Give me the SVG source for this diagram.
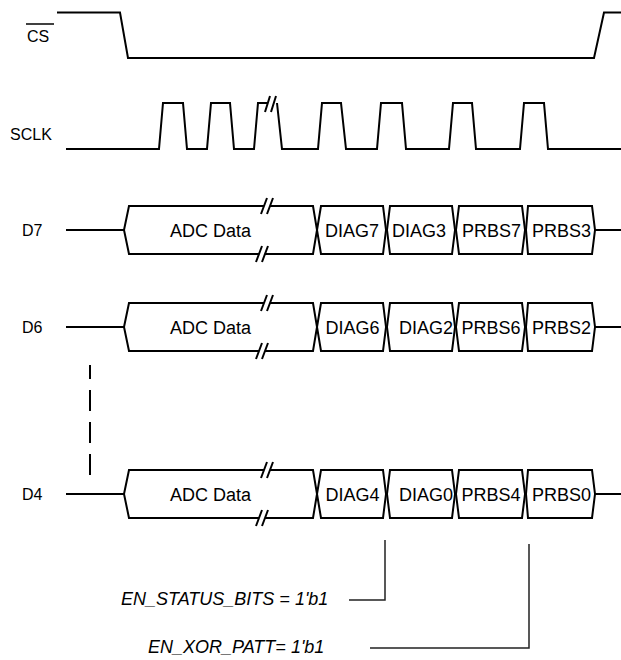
<svg xmlns="http://www.w3.org/2000/svg" width="621" height="660" viewBox="0 0 621 660">
<style>
.w{fill:none;stroke:#000;stroke-width:2;stroke-linejoin:miter}
.seg{fill:#fff;stroke:#000;stroke-width:2}
.lbl{font-family:"Liberation Sans",Arial,sans-serif;font-size:16px;fill:#000}
.t{font-family:"Liberation Sans",Arial,sans-serif;font-size:18px;fill:#000;text-anchor:middle}
.it{font-family:"Liberation Sans",Arial,sans-serif;font-size:18px;font-style:italic;fill:#000}
.c{fill:none;stroke:#222;stroke-width:1.5}
.gap{fill:#fff;stroke:none}
</style>
<rect width="621" height="660" fill="#fff"/>
<g id="cs">
<text class="lbl" x="27" y="41.5">CS</text>
<line x1="26" y1="24" x2="54" y2="24" stroke="#000" stroke-width="1.5"/>
<path class="w" d="M57,12.5 H120 L128,58 H594 L604,12.5 H621"/>
</g>
<g id="sclk">
<text class="lbl" x="10" y="140">SCLK</text>
<path class="w" d="M66,149 H159 L163,103 H183 L187,149 H207 L211,103 H230 L234,149 H254 L258,103 H267"/>
<path class="w" d="M265,112 L270,96 M271,112 L276,96"/>
<path class="w" d="M277,103 L282,149 H318 L322,103 H341 L346,149 H377 L381,103 H402 L406,149 H449 L453,103 H472 L476,149 H520 L524,103 H544 L548,149 H621"/>
</g>
<g id="d7">
<text class="lbl" x="22" y="236">D7</text>
<line class="w" x1="66" y1="230" x2="124" y2="230"/>
<polygon class="seg" points="124,230 129,206 313,206 317,230 313,254 129,254"/>
<rect class="gap" x="264" y="204" width="6" height="4"/>
<rect class="gap" x="259" y="252" width="6" height="4"/>
<path class="w" d="M261,214 L267,198 M267,214 L273,198 M256,262 L262,246 M262,262 L268,246"/>
<text class="t" x="210.5" y="236.5">ADC Data</text>
<polygon class="seg" points="317,230 321,206 383,206 386,230 383,254 321,254"/>
<text class="t" x="352" y="236.5">DIAG7</text>
<polygon class="seg" points="387,230 390,206 452,206 455,230 452,254 390,254"/>
<text class="t" x="419" y="236.5">DIAG3</text>
<polygon class="seg" points="456,230 459,206 522,206 525,230 522,254 459,254"/>
<text class="t" x="491.5" y="236.5">PRBS7</text>
<polygon class="seg" points="526,230 528,206 592,206 595,230 592,254 528,254"/>
<text class="t" x="561.5" y="236.5">PRBS3</text>
<line class="w" x1="595" y1="230" x2="621" y2="230"/>
</g>
<g id="d6">
<text class="lbl" x="22" y="333">D6</text>
<line class="w" x1="66" y1="327" x2="124" y2="327"/>
<polygon class="seg" points="124,327 129,303 313,303 317,327 313,351 129,351"/>
<rect class="gap" x="264" y="301" width="6" height="4"/>
<rect class="gap" x="259" y="349" width="6" height="4"/>
<path class="w" d="M261,311 L267,295 M267,311 L273,295 M256,359 L262,343 M262,359 L268,343"/>
<text class="t" x="210.5" y="333.5">ADC Data</text>
<polygon class="seg" points="317,327 321,303 383,303 386,327 383,351 321,351"/>
<text class="t" x="352.5" y="333.5">DIAG6</text>
<polygon class="seg" points="387,327 390,303 452,303 455,327 452,351 390,351"/>
<text class="t" x="426" y="333.5">DIAG2</text>
<polygon class="seg" points="456,327 459,303 522,303 525,327 522,351 459,351"/>
<text class="t" x="491" y="333.5">PRBS6</text>
<polygon class="seg" points="526,327 528,303 592,303 595,327 592,351 528,351"/>
<text class="t" x="561.5" y="333.5">PRBS2</text>
<line class="w" x1="595" y1="327" x2="621" y2="327"/>
</g>
<g id="ellipsis">
<path class="w" d="M90,365 V379 M90,390 V411 M90,422 V443 M90,454 V475"/>
</g>
<g id="d4">
<text class="lbl" x="22" y="500">D4</text>
<line class="w" x1="66" y1="494" x2="124" y2="494"/>
<polygon class="seg" points="124,494 129,470 313,470 317,494 313,518 129,518"/>
<rect class="gap" x="264" y="468" width="6" height="4"/>
<rect class="gap" x="259" y="516" width="6" height="4"/>
<path class="w" d="M261,478 L267,462 M267,478 L273,462 M256,526 L262,510 M262,526 L268,510"/>
<text class="t" x="210.5" y="500.5">ADC Data</text>
<polygon class="seg" points="317,494 321,470 383,470 386,494 383,518 321,518"/>
<text class="t" x="352.5" y="500.5">DIAG4</text>
<polygon class="seg" points="387,494 390,470 452,470 455,494 452,518 390,518"/>
<text class="t" x="426" y="500.5">DIAG0</text>
<polygon class="seg" points="456,494 459,470 522,470 525,494 522,518 459,518"/>
<text class="t" x="491" y="500.5">PRBS4</text>
<polygon class="seg" points="526,494 528,470 592,470 595,494 592,518 528,518"/>
<text class="t" x="561.5" y="500.5">PRBS0</text>
<line class="w" x1="595" y1="494" x2="621" y2="494"/>
</g>
<g id="en_status">
<text class="it" x="121" y="604.5">EN_STATUS_BITS = 1'b1</text>
</g>
<g id="en_xor">
<text class="it" x="148" y="653">EN_XOR_PATT= 1'b1</text>
</g>
<g id="connectors">
<path class="c" d="M349,600 H385 V540"/>
<path class="c" d="M370,648 H529 V544"/>
</g>
</svg>
